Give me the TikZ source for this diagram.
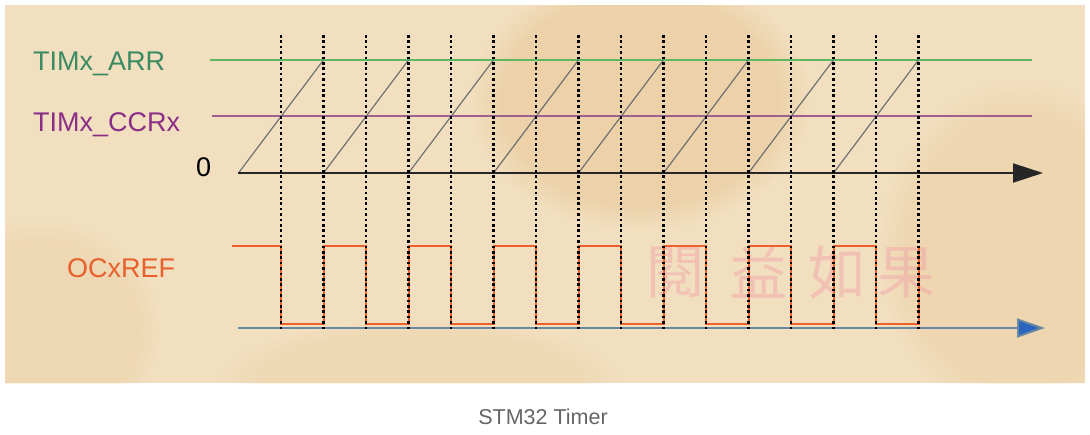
\documentclass[tikz,border=0pt]{standalone}
\usepackage{fontspec}
\setmainfont{Liberation Sans}
\newfontfamily\cjk{Noto Sans CJK TC}
\usetikzlibrary{arrows.meta,fadings}
\definecolor{paper}{HTML}{F2DFBF}
\definecolor{tanc}{HTML}{DDB070}
\definecolor{arrtxt}{HTML}{3A8A62}
\definecolor{arrline}{HTML}{5DB860}
\definecolor{ccrtxt}{HTML}{8A2E86}
\definecolor{ccrline}{HTML}{A0608E}
\definecolor{ocx}{HTML}{E8602C}
\definecolor{sqc}{HTML}{F0602A}
\definecolor{bluax}{HTML}{6A88A4}
\definecolor{bluarr}{HTML}{2A64BE}
\definecolor{rampc}{HTML}{707070}
\definecolor{capc}{HTML}{666666}
\definecolor{wm}{HTML}{F0A0A8}
\tikzset{
  lbl/.style={anchor=base west, inner sep=0pt, font=\fontsize{27}{30}\selectfont},
  level/.style={line width=1.6pt},
  ramp/.style={draw=rampc, line width=1.2pt},
  sq/.style={draw=sqc, line width=2pt},
  guide/.style={draw=black, line width=2.8pt, dash pattern=on 2.6pt off 2.8pt},
  wmark/.style={text=wm, opacity=0.45, font=\cjk\fontsize{58}{60}\selectfont, inner sep=0pt},
  blob/.style={fill=tanc, path fading=circle with fuzzy edge 20 percent},
}
\begin{document}
\begin{tikzpicture}[x=1pt,y=-1pt]
\useasboundingbox (0,0) rectangle (1090,434);
\fill[white] (0,0) rectangle (1090,434);
% parchment
\begin{scope}
\clip (5,5) rectangle (1085,383);
\fill[paper] (5,5) rectangle (1085,383);
\fill[blob, opacity=0.28] (640,100) ellipse [x radius=170, y radius=130];
\fill[blob, opacity=0.18] (1020,250) ellipse [x radius=140, y radius=170];
\fill[blob, opacity=0.15] (40,330) ellipse [x radius=120, y radius=110];
\fill[blob, opacity=0.12] (420,380) ellipse [x radius=200, y radius=60];
\end{scope}
% watermark
\node[wmark] (w1) at (675,273) {閱};
\node[wmark] (w2) at (758,273) {益};
\node[wmark] (w3) at (837,273) {如};
\node[wmark] (w4) at (906,273) {果};
% labels
\node[lbl, text=arrtxt] (arr) at (33,70) {TIMx\_ARR};
\node[lbl, text=ccrtxt] (ccr) at (33,131) {TIMx\_CCRx};
\node[lbl] (zero) at (196,176) {0};
\node[lbl, text=ocx] (ocxref) at (67,277) {OCxREF};
\node[anchor=base, inner sep=0pt, text=capc, font=\fontsize{21.5}{24}\selectfont] (cap) at (543,424) {STM32 Timer};
% level lines
\coordinate (arrA) at (210,60); \coordinate (arrB) at (1032,60);
\coordinate (ccrA) at (212,116); \coordinate (ccrB) at (1032,116);
\draw[level, draw=arrline] (arrA) -- (arrB);
\draw[level, draw=ccrline] (ccrA) -- (ccrB);
% sawtooth
\foreach \j in {0,...,7} {
  \draw[ramp] ({238.5+85*\j},173) -- ({323.5+85*\j},60);
}
% counter axis
\coordinate (ax0) at (238,173); \coordinate (ax1) at (1043,173);
\draw[line width=2pt, draw=black!85, -{Triangle[length=30pt,width=19pt]}] (ax0) -- (ax1);
% output axis
\coordinate (bx0) at (238,328); \coordinate (bx1) at (1045,328);
\draw[line width=2pt, draw=bluax, -{Triangle[length=28pt,width=19pt,fill=bluarr]}, color=bluax] (bx0) -- (bx1);
% square wave
\draw[sq] (232,246) -| (281,324) -| (323.5,246) -| (366,324) -| (408.5,246) -| (451,324) -| (493.5,246) -| (536,324) -| (578.5,246) -| (621,324) -| (663.5,246) -| (706,324) -| (748.5,246) -| (791,324) -| (833.5,246) -| (876,324) -| (918.5,246);
% dotted guides
\foreach \k in {0,...,15} {
  \draw[guide] ({281+42.5*\k},35) -- ({281+42.5*\k},330);
}
\end{tikzpicture}
\end{document}
